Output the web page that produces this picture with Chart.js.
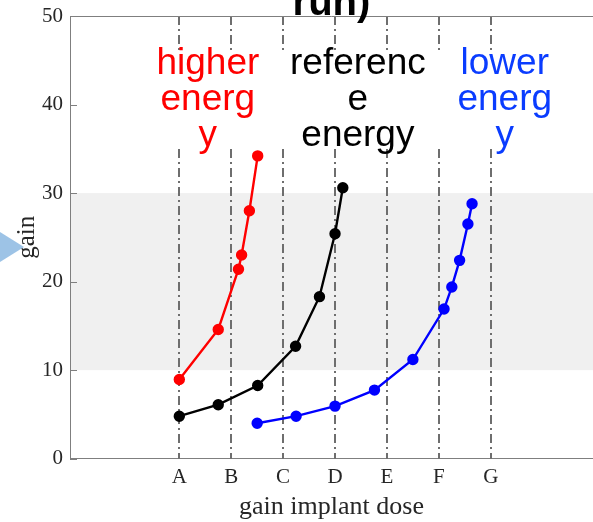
<!DOCTYPE html>
<html>
<head>
<meta charset="utf-8">
<script src="https://cdn.jsdelivr.net/npm/chart.js@4.4.1/dist/chart.umd.min.js"></script>
<style>
  html, body { margin: 0; padding: 0; background: #fff; overflow: hidden; }
  #wrap { width: 593px; height: 522px; }
</style>
</head>
<body>
<div id="wrap"><canvas id="myChart" width="593" height="522"></canvas></div>
<script>
// dose positions on the x axis (A..G sit at 1..7)
const doseLabels = ['A', 'B', 'C', 'D', 'E', 'F', 'G'];
const dosePositions = [1, 2, 3, 4, 5, 6, 7];
const gainTicks = [0, 10, 20, 30, 40, 50];

// gain curves for the three energies
const higherX = [1, 1.75, 2.14, 2.20, 2.35, 2.51];
const higherY = [8.95, 14.6, 21.4, 23.0, 28.0, 34.2];

const referenceX = [1, 1.75, 2.51, 3.24, 3.70, 4.0, 4.15];
const referenceY = [4.8, 6.1, 8.27, 12.7, 18.3, 25.4, 30.6];

const lowerX = [2.5, 3.25, 4.0, 4.76, 5.5, 6.1, 6.25, 6.4, 6.56, 6.64];
const lowerY = [4.0, 4.8, 5.94, 7.75, 11.2, 16.9, 19.4, 22.4, 26.5, 28.8];

// target gain window
const bandLow = 10;
const bandHigh = 30;

const energyNames = [['higher', 'energ', 'y'], ['referenc', 'e', 'energy'], ['lower', 'energ', 'y']];
const titleText = 'run)';

const toPoints = (xs, ys) => xs.map((x, i) => ({ x: x, y: ys[i] }));

function series(label, xs, ys, color) {
  return {
    label: label,
    data: toPoints(xs, ys),
    borderColor: color,
    backgroundColor: color,
    pointBackgroundColor: color,
    pointBorderColor: color,
    borderWidth: 2.4,
    pointRadius: 4.5,
    pointHoverRadius: 4.5,
    tension: 0
  };
}

const serif = "'Liberation Serif', 'Times New Roman', serif";
const axisGrey = '#7f7f7f';

// no extra room for edge labels, the frame fills the canvas
function noPadding(s) {
  s.paddingLeft = 0;
  s.paddingRight = 0;
  s.paddingTop = 0;
  s.paddingBottom = 0;
}

// band, dash-dot dose lines, labels and the arrow head
const decor = {
  id: 'decor',
  beforeDatasetsDraw(chart) {
    const { ctx, chartArea: a, scales: { x, y } } = chart;
    ctx.save();
    ctx.fillStyle = '#f0f0f0';
    ctx.fillRect(a.left + 1, y.getPixelForValue(bandHigh), a.right - a.left, y.getPixelForValue(bandLow) - y.getPixelForValue(bandHigh));

    ctx.strokeStyle = '#6e6e6e';
    ctx.lineWidth = 2;
    ctx.setLineDash([9, 4, 2, 4]);
    dosePositions.forEach(v => {
      const px = Math.round(x.getPixelForValue(v));
      ctx.beginPath();
      ctx.moveTo(px, a.top);
      ctx.lineTo(px, a.bottom);
      ctx.stroke();
    });
    ctx.setLineDash([]);

    // top frame line and inward ticks
    ctx.strokeStyle = axisGrey;
    ctx.lineWidth = 1;
    ctx.beginPath();
    ctx.moveTo(a.left, a.top + 0.5);
    ctx.lineTo(a.right, a.top + 0.5);
    gainTicks.forEach(v => {
      const py = Math.round(y.getPixelForValue(v)) + 0.5;
      ctx.moveTo(a.left, py);
      ctx.lineTo(a.left + 7, py);
    });
    ctx.stroke();

    // energy labels on white boxes
    const labelX = [1.55, 4.44, 7.27];
    const colors = ['#ff0000', '#000000', '#0a3cff'];
    ctx.font = "37px 'Liberation Sans', Arial, sans-serif";
    ctx.textAlign = 'center';
    ctx.textBaseline = 'alphabetic';
    energyNames.forEach((lines, i) => {
      const cx = x.getPixelForValue(labelX[i]);
      const w = Math.max(...lines.map(t => ctx.measureText(t).width)) + 52;
      ctx.fillStyle = '#ffffff';
      ctx.fillRect(cx - w / 2, 52, w, 96);
    });
    energyNames.forEach((lines, i) => {
      const cx = x.getPixelForValue(labelX[i]);
      ctx.fillStyle = colors[i];
      lines.forEach((t, k) => ctx.fillText(t, cx, 73.5 + k * 36.3));
    });
    ctx.restore();
  },
  afterDraw(chart) {
    const { ctx, chartArea: a } = chart;
    ctx.save();
    ctx.fillStyle = '#000';
    ctx.font = "bold 40px 'Liberation Sans', Arial, sans-serif";
    ctx.textAlign = 'center';
    ctx.textBaseline = 'alphabetic';
    ctx.fillText(titleText, (a.left + a.right) / 2, 15);

    ctx.fillStyle = '#9dc3e6';
    ctx.beginPath();
    ctx.moveTo(-5, 229);
    ctx.lineTo(24, 247);
    ctx.lineTo(-5, 265);
    ctx.closePath();
    ctx.fill();
    ctx.restore();
  }
};

new Chart(document.getElementById('myChart'), {
  type: 'line',
  data: {
    datasets: [
      series('higher energy', higherX, higherY, '#ff0000'),
      series('reference energy', referenceX, referenceY, '#000000'),
      series('lower energy', lowerX, lowerY, '#0000ff')
    ]
  },
  options: {
    responsive: false,
    animation: false,
    devicePixelRatio: 1,
    layout: { autoPadding: false, padding: { top: 16, right: 0, bottom: 0, left: 0 } },
    plugins: { legend: { display: false }, tooltip: { enabled: false } },
    scales: {
      x: {
        type: 'linear',
        min: -1.106,
        max: 8.97,
        afterFit: s => { s.height = 63.3; noPadding(s); },
        afterBuildTicks: s => { s.ticks = dosePositions.map(v => ({ value: v })); },
        grid: { display: true, drawOnChartArea: false, drawTicks: false },
        border: { display: true, color: axisGrey, width: 1 },
        ticks: {
          padding: 6,
          color: '#262626',
          font: { family: serif, size: 21 },
          callback: v => doseLabels[dosePositions.indexOf(v)] || ''
        },
        title: {
          display: true,
          text: 'gain implant dose',
          color: '#262626',
          font: { family: serif, size: 26, lineHeight: 1 },
          padding: { top: 0, bottom: 2 }
        }
      },
      y: {
        min: 0,
        max: 50,
        afterFit: s => { s.width = 70; noPadding(s); },
        afterBuildTicks: s => { s.ticks = gainTicks.map(v => ({ value: v })); },
        grid: { display: true, drawOnChartArea: false, drawTicks: false },
        border: { display: true, color: axisGrey, width: 1 },
        ticks: {
          padding: 7,
          color: '#262626',
          font: { family: serif, size: 21 }
        },
        title: {
          display: true,
          text: 'gain',
          color: '#262626',
          font: { family: serif, size: 25, lineHeight: 1 },
          padding: { top: 14.5, bottom: 0 }
        }
      }
    }
  },
  plugins: [decor]
});
</script>
</body>
</html>
